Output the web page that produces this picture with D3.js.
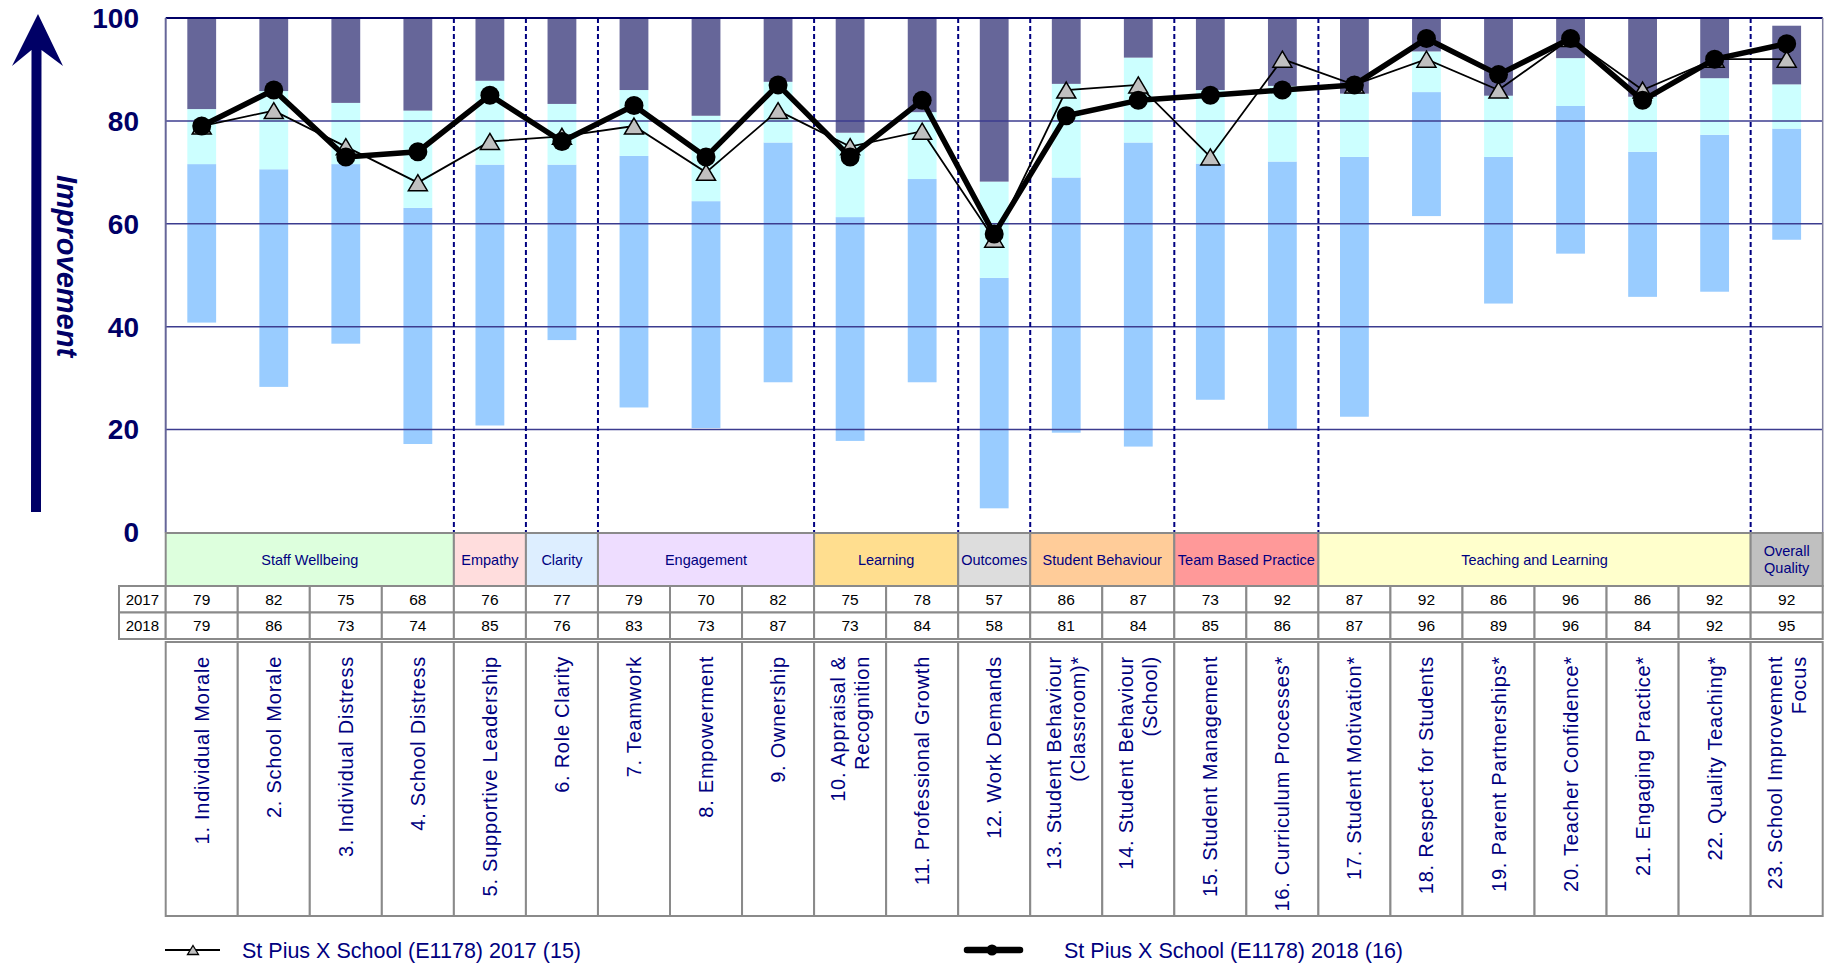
<!DOCTYPE html>
<html><head><meta charset="utf-8">
<script src="https://cdn.jsdelivr.net/npm/d3@7"></script>
<style>
body{margin:0;background:#fff;}
svg{display:block;font-family:"Liberation Sans",Arial,Helvetica,sans-serif;}
</style>
</head><body>
<svg id="chart" width="1829" height="964"></svg>
<script>
// ---------- DATA ----------
const categories = [
  "1. Individual Morale","2. School Morale","3. Individual Distress","4. School Distress",
  "5. Supportive Leadership","6. Role Clarity","7. Teamwork","8. Empowerment","9. Ownership",
  "10. Appraisal &\nRecognition","11. Professional Growth","12. Work Demands",
  "13. Student Behaviour\n(Classroom)*","14. Student Behaviour\n(School)","15. Student Management",
  "16. Curriculum Processes*","17. Student Motivation*","18. Respect for Students",
  "19. Parent Partnerships*","20. Teacher Confidence*","21. Engaging Practice*",
  "22. Quality Teaching*","23. School Improvement\nFocus"
];
const groupNames = ["Staff Wellbeing","Empathy","Clarity","Engagement","Learning","Outcomes",
  "Student Behaviour","Team Based Practice","Teaching and Learning","Overall\nQuality"];
const groupSizes = [4,1,1,3,2,1,2,2,6,1];
const rowYears = ["2017","2018"];
const series2017 = [79,82,75,68,76,77,79,70,82,75,78,57,86,87,73,92,87,92,86,96,86,92,92];
const series2018 = [79,86,73,74,85,76,83,73,87,73,84,58,81,84,85,86,87,96,89,96,84,92,95];
// stacked range bars: lowest, lower quartile, upper quartile, highest
const barLow  = [40.8,28.3,36.7,17.2,20.8,37.4,24.3,20.3,29.2,17.8,29.2,4.7,19.4,16.7,25.8,20.0,22.5,61.5,44.5,54.2,45.8,46.8,56.9];
const barQ1   = [71.6,70.6,71.6,63.1,71.5,71.5,73.2,64.4,75.8,61.3,68.7,49.5,69.0,75.8,71.7,72.1,73.0,85.6,73.0,82.9,74.0,77.3,78.5];
const barQ3   = [82.3,85.8,83.5,82.0,87.8,83.3,86.0,81.0,87.6,77.7,81.7,68.2,87.2,92.3,86.0,86.8,85.3,93.5,84.9,92.2,84.7,88.3,87.1];
const barHigh = [100,100,100,100,100,100,100,100,100,100,100,100,100,100,100,100,100,100,100,100,100,100,98.5];
const yTicks = [0,20,40,60,80,100];
const legendLabels = ["St Pius X School (E1178) 2017 (15)","St Pius X School (E1178) 2018 (16)"];

// ---------- STYLE ----------
const groupColors = ["#DDFFDD","#FFDDDD","#DDEEFF","#EEDDFF","#FFDE8F","#DDDDDD","#FFCC99","#FF9999","#FFFFCC","#C0C0C0"];
const segColors = ["#99CCFF","#CCFFFF","#666699"];
const navy = "#000080", darkNavy = "#000066", grid = "#3c3c8f", cellStroke = "#8a8a8a";

const svg = d3.select("#chart");
const X0 = 165.7, X1 = 1822.7;
const x = d3.scaleBand().domain(d3.range(categories.length)).range([X0, X1]).paddingInner(0).paddingOuter(0);
const y = d3.scaleLinear().domain([0,100]).range([532.5, 18]);
const bw = x.bandwidth();
const barW = bw * 0.4;
const cx = i => x(i) + bw/2;

// ---------- BARS ----------
const segs = [];
categories.forEach((c,i) => {
  segs.push({i, a: barLow[i], b: barQ1[i], c: segColors[0]});
  segs.push({i, a: barQ1[i], b: barQ3[i], c: segColors[1]});
  segs.push({i, a: barQ3[i], b: barHigh[i], c: segColors[2]});
});
svg.append("g").selectAll("rect").data(segs).join("rect")
  .attr("x", d => cx(d.i) - barW/2).attr("width", barW)
  .attr("y", d => y(d.b)).attr("height", d => y(d.a) - y(d.b))
  .attr("fill", d => d.c);

// ---------- GRID ----------
svg.append("g").selectAll("line").data(yTicks.filter(v => v > 0 && v < 100)).join("line")
  .attr("x1", X0).attr("x2", X1).attr("y1", d => y(d)).attr("y2", d => y(d))
  .attr("stroke", grid).attr("stroke-width", 1.5);

// group boundaries (dashed)
const bounds = [];
let acc = 0;
groupSizes.forEach((s, k) => { acc += s; if (k < groupSizes.length - 1) bounds.push(acc); });
svg.append("g").selectAll("line").data(bounds).join("line")
  .attr("x1", d => x(d)).attr("x2", d => x(d)).attr("y1", y(100)).attr("y2", y(0))
  .attr("stroke", navy).attr("stroke-width", 2).attr("stroke-dasharray", "5,3");

// plot border
svg.append("line").attr("x1", X0).attr("x2", X1).attr("y1", y(100)).attr("y2", y(100))
  .attr("stroke", darkNavy).attr("stroke-width", 2);
svg.append("line").attr("x1", X0).attr("x2", X0).attr("y1", y(100)).attr("y2", y(0))
  .attr("stroke", "#666699").attr("stroke-width", 2);
svg.append("line").attr("x1", X1).attr("x2", X1).attr("y1", y(100)).attr("y2", y(0))
  .attr("stroke", "#8080a0").attr("stroke-width", 1.5);

// ---------- Y AXIS ----------
svg.append("g").selectAll("text").data(yTicks).join("text")
  .attr("x", 139).attr("y", d => y(d)).attr("dy", "0.35em")
  .attr("text-anchor", "end").attr("font-size", 28).attr("font-weight", "bold")
  .attr("fill", darkNavy).text(d => d);

// arrow
svg.append("path")
  .attr("d", "M38,14 L63,66 L41.5,50 L41,512 L31,512 L31.5,50 L12,66 Z")
  .attr("fill", darkNavy);
svg.append("text").attr("transform", "translate(67,266) rotate(90)")
  .attr("text-anchor", "middle").attr("dy", "0.35em")
  .attr("font-size", 29).attr("font-weight", "bold").attr("font-style", "italic")
  .attr("fill", darkNavy).text("Improvement");

// ---------- LINES ----------
const line = d3.line().x((d,i) => cx(i)).y(d => y(d));
svg.append("path").datum(series2017).attr("d", line)
  .attr("fill", "none").attr("stroke", "#000").attr("stroke-width", 1.8);
const tri = (w, h) => `M0,${-h/2} L${w/2},${h/2} L${-w/2},${h/2} Z`;
svg.append("g").selectAll("path").data(series2017).join("path")
  .attr("transform", (d,i) => `translate(${cx(i)},${y(d)})`)
  .attr("d", tri(19, 16)).attr("fill", "#C0C0C0").attr("stroke", "#000").attr("stroke-width", 1.5);
svg.append("path").datum(series2018).attr("d", line)
  .attr("fill", "none").attr("stroke", "#000").attr("stroke-width", 5.5).attr("stroke-linejoin", "round");
svg.append("g").selectAll("circle").data(series2018).join("circle")
  .attr("cx", (d,i) => cx(i)).attr("cy", d => y(d)).attr("r", 9.5).attr("fill", "#000");

// ---------- TABLE ----------
const bandTop = 533, bandBot = 586, r1Bot = 612.5, r2Bot = 639, labTop = 642, labBot = 916;
const groups = [];
acc = 0;
groupNames.forEach((g, k) => { groups.push({name: g, s: acc, e: acc + groupSizes[k], col: groupColors[k]}); acc += groupSizes[k]; });
const gG = svg.append("g");
gG.selectAll("rect").data(groups).join("rect")
  .attr("x", d => x(d.s)).attr("width", d => (d.e - d.s) * bw)
  .attr("y", bandTop).attr("height", bandBot - bandTop)
  .attr("fill", d => d.col).attr("stroke", cellStroke).attr("stroke-width", 2);
gG.selectAll("text").data(groups).join("text")
  .attr("text-anchor", "middle").attr("font-size", 14.5).attr("fill", navy)
  .each(function(d) {
    const lines = d.name.split("\n");
    const mid = (bandTop + bandBot) / 2;
    const sel = d3.select(this);
    lines.forEach((t, j) => {
      sel.append("tspan").attr("x", x(d.s) + (d.e - d.s) * bw / 2)
        .attr("y", mid + (j - (lines.length - 1) / 2) * 17).attr("dy", "0.35em").text(t);
    });
  });

// year rows
const rows = [series2017, series2018];
const rowY = [[bandBot, r1Bot], [r1Bot, r2Bot]];
rows.forEach((vals, r) => {
  const g = svg.append("g");
  const [t, b] = rowY[r];
  g.append("rect").attr("x", 119).attr("width", X0 - 119).attr("y", t).attr("height", b - t)
    .attr("fill", "#fff").attr("stroke", cellStroke).attr("stroke-width", 2);
  g.append("text").attr("x", (119 + X0) / 2).attr("y", (t + b) / 2).attr("dy", "0.35em")
    .attr("text-anchor", "middle").attr("font-size", 15).attr("fill", "#000").text(rowYears[r]);
  g.selectAll("rect.c").data(vals).join("rect").attr("class", "c")
    .attr("x", (d,i) => x(i)).attr("width", bw).attr("y", t).attr("height", b - t)
    .attr("fill", "#fff").attr("stroke", cellStroke).attr("stroke-width", 2);
  g.selectAll("text.v").data(vals).join("text").attr("class", "v")
    .attr("x", (d,i) => cx(i)).attr("y", (t + b) / 2).attr("dy", "0.35em")
    .attr("text-anchor", "middle").attr("font-size", 15.5).attr("fill", "#000").text(d => d);
});

// category label cells
const lg = svg.append("g");
lg.selectAll("rect").data(categories).join("rect")
  .attr("x", (d,i) => x(i)).attr("width", bw).attr("y", labTop).attr("height", labBot - labTop)
  .attr("fill", "#fff").attr("stroke", cellStroke).attr("stroke-width", 2);
lg.selectAll("text").data(categories).join("text")
  .attr("transform", (d,i) => `translate(${cx(i)},656) rotate(-90)`)
  .attr("text-anchor", "end").attr("font-size", 20).attr("letter-spacing", "0.75px").attr("fill", navy)
  .each(function(d) {
    const lines = d.split("\n");
    const sel = d3.select(this);
    lines.forEach((t, j) => {
      sel.append("tspan").attr("x", 0)
        .attr("y", (j - (lines.length - 1) / 2) * 24).attr("dy", "0.35em").text(t);
    });
  });

// ---------- LEGEND ----------
const legY = 950;
const l1 = svg.append("g");
l1.append("line").attr("x1", 165).attr("x2", 220).attr("y1", legY).attr("y2", legY)
  .attr("stroke", "#000").attr("stroke-width", 2);
l1.append("path").attr("transform", `translate(193,${legY})`).attr("d", tri(11, 9))
  .attr("fill", "#C0C0C0").attr("stroke", "#000").attr("stroke-width", 1.3);
l1.append("text").attr("x", 242).attr("y", legY).attr("dy", "0.35em")
  .attr("font-size", 21.5).attr("fill", navy).text(legendLabels[0]);
const l2 = svg.append("g");
l2.append("line").attr("x1", 967).attr("x2", 1020).attr("y1", legY).attr("y2", legY)
  .attr("stroke", "#000").attr("stroke-width", 6.5).attr("stroke-linecap", "round");
l2.append("circle").attr("cx", 992).attr("cy", legY).attr("r", 5.5).attr("fill", "#000");
l2.append("text").attr("x", 1064).attr("y", legY).attr("dy", "0.35em")
  .attr("font-size", 21.5).attr("fill", navy).text(legendLabels[1]);
</script>
</body></html>
